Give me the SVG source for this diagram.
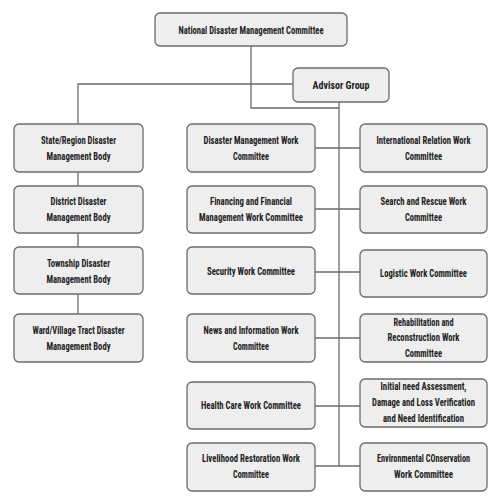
<svg xmlns="http://www.w3.org/2000/svg" width="500" height="500" viewBox="0 0 500 500">
<style>
.box{fill:#eeeeee;stroke:#6b6b6b;stroke-width:1.3}
.c{fill:none;stroke:#6b6b6b;stroke-width:1.3}
text{font-family:"Liberation Sans Narrow","Roboto Condensed","Liberation Sans",Arial,sans-serif;font-size:11px;font-weight:bold;fill:#222;text-anchor:middle}
</style>
<rect width="500" height="500" fill="#ffffff"/>
<g id="connectors">
<path class="c" d="M251 46 V108 H339"/>
<path class="c" d="M339 102 V466"/>
<path class="c" d="M293 84 H78 V124"/>
<path class="c" d="M78 172 V186 M78 233 V247 M78 294 V314"/>
<path class="c" d="M315 148 H360 M315 209 H360 M315 272 H360 M315 338 H360 M315 406 H360 M315 466 H360"/>
</g>
<g id="national"><rect class="box" x="155" y="13" width="192" height="33" rx="5"/><text x="251" y="34" textLength="145" lengthAdjust="spacingAndGlyphs">National Disaster Management Committee</text></g>
<g id="advisor"><rect class="box" x="293" y="68" width="96" height="34" rx="5"/><text x="341" y="89" textLength="57" lengthAdjust="spacingAndGlyphs">Advisor Group</text></g>
<g id="state"><rect class="box" x="14" y="124" width="129" height="48" rx="5"/><text x="78.5" y="144" textLength="75" lengthAdjust="spacingAndGlyphs">State/Region Disaster</text><text x="78.5" y="160" textLength="64" lengthAdjust="spacingAndGlyphs">Management Body</text></g>
<g id="district"><rect class="box" x="14" y="186" width="129" height="47" rx="5"/><text x="78.5" y="205" textLength="56" lengthAdjust="spacingAndGlyphs">District Disaster</text><text x="78.5" y="221" textLength="64" lengthAdjust="spacingAndGlyphs">Management Body</text></g>
<g id="township"><rect class="box" x="14" y="247" width="129" height="47" rx="5"/><text x="78.5" y="267" textLength="63" lengthAdjust="spacingAndGlyphs">Township Disaster</text><text x="78.5" y="283" textLength="64" lengthAdjust="spacingAndGlyphs">Management Body</text></g>
<g id="ward"><rect class="box" x="14" y="314" width="129" height="48" rx="5"/><text x="78.5" y="334" textLength="92" lengthAdjust="spacingAndGlyphs">Ward/Village Tract Disaster</text><text x="78.5" y="350" textLength="64" lengthAdjust="spacingAndGlyphs">Management Body</text></g>
<g id="dmwc"><rect class="box" x="187" y="124" width="128" height="48" rx="5"/><text x="251" y="144" textLength="95" lengthAdjust="spacingAndGlyphs">Disaster Management Work</text><text x="251" y="160" textLength="36" lengthAdjust="spacingAndGlyphs">Committee</text></g>
<g id="finance"><rect class="box" x="187" y="186" width="128" height="47" rx="5"/><text x="251" y="205" textLength="82" lengthAdjust="spacingAndGlyphs">Financing and Financial</text><text x="251" y="221" textLength="104" lengthAdjust="spacingAndGlyphs">Management Work Committee</text></g>
<g id="security"><rect class="box" x="187" y="247" width="128" height="47" rx="5"/><text x="251" y="275" textLength="88" lengthAdjust="spacingAndGlyphs">Security Work Committee</text></g>
<g id="news"><rect class="box" x="187" y="314" width="128" height="48" rx="5"/><text x="251" y="334" textLength="95" lengthAdjust="spacingAndGlyphs">News and Information Work</text><text x="251" y="350" textLength="36" lengthAdjust="spacingAndGlyphs">Committee</text></g>
<g id="health"><rect class="box" x="187" y="382" width="128" height="47" rx="5"/><text x="251" y="409" textLength="100" lengthAdjust="spacingAndGlyphs">Health Care Work Committee</text></g>
<g id="livelihood"><rect class="box" x="187" y="443" width="128" height="48" rx="5"/><text x="251" y="462" textLength="98" lengthAdjust="spacingAndGlyphs">Livelihood Restoration Work</text><text x="251" y="478" textLength="36" lengthAdjust="spacingAndGlyphs">Committee</text></g>
<g id="international"><rect class="box" x="360" y="124" width="127" height="48" rx="5"/><text x="423.5" y="144" textLength="94" lengthAdjust="spacingAndGlyphs">International Relation Work</text><text x="423.5" y="160" textLength="37" lengthAdjust="spacingAndGlyphs">Committee</text></g>
<g id="search"><rect class="box" x="360" y="186" width="127" height="47" rx="5"/><text x="423.5" y="205" textLength="86" lengthAdjust="spacingAndGlyphs">Search and Rescue Work</text><text x="423.5" y="221" textLength="37" lengthAdjust="spacingAndGlyphs">Committee</text></g>
<g id="logistic"><rect class="box" x="360" y="250" width="127" height="47" rx="5"/><text x="423.5" y="277" textLength="87" lengthAdjust="spacingAndGlyphs">Logistic Work Committee</text></g>
<g id="rehab"><rect class="box" x="360" y="314" width="127" height="48" rx="5"/><text x="423.5" y="326" textLength="60" lengthAdjust="spacingAndGlyphs">Rehabilitation and</text><text x="423.5" y="341" textLength="72" lengthAdjust="spacingAndGlyphs">Reconstruction Work</text><text x="423.5" y="357" textLength="37" lengthAdjust="spacingAndGlyphs">Committee</text></g>
<g id="initial"><rect class="box" x="360" y="379" width="127" height="48" rx="5"/><text x="423.5" y="390" textLength="86" lengthAdjust="spacingAndGlyphs">Initial need Assessment,</text><text x="423.5" y="406" textLength="103" lengthAdjust="spacingAndGlyphs">Damage and Loss Verification</text><text x="423.5" y="422" textLength="81" lengthAdjust="spacingAndGlyphs">and Need Identification</text></g>
<g id="environment"><rect class="box" x="360" y="443" width="127" height="48" rx="5"/><text x="423.5" y="462" textLength="93" lengthAdjust="spacingAndGlyphs">Environmental COnservation</text><text x="423.5" y="478" textLength="59" lengthAdjust="spacingAndGlyphs">Work Committee</text></g>
</svg>
